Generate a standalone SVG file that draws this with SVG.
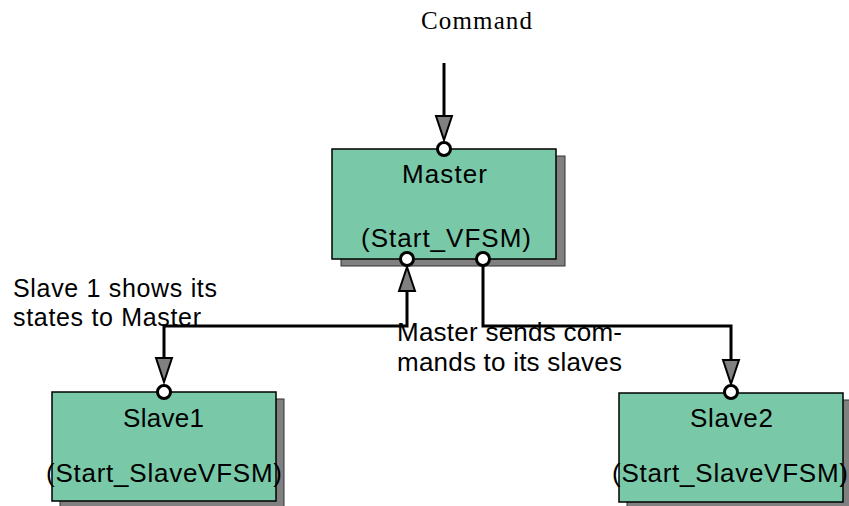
<svg xmlns="http://www.w3.org/2000/svg" width="849" height="506" viewBox="0 0 849 506">
  <style>
    .box { fill: #79C9A9; stroke: #000; stroke-width: 1.5; }
    .shadow { fill: #808080; stroke: #333; stroke-width: 1; }
    .port { fill: #fff; stroke: #000; stroke-width: 3; }
    .wire { fill: none; stroke: #000; stroke-width: 3; }
    .t { font-family: "Liberation Sans", Arial, sans-serif; font-size: 26px; fill: #000; }
    .lbl { font-family: "Liberation Sans", Arial, sans-serif; font-size: 25px; fill: #000; }
    .serif { font-family: "Liberation Serif", "Times New Roman", serif; font-size: 25px; fill: #000; }
  </style>
  <defs>
    <marker id="arr" markerUnits="userSpaceOnUse" markerWidth="28" markerHeight="20" viewBox="0 0 28 20" refX="1" refY="10" orient="auto-start-reverse">
      <path d="M1,2 L25,10 L1,18 Z" fill="#808080" stroke="#000" stroke-width="2" stroke-linejoin="miter"/>
    </marker>
  </defs>
  <rect width="849" height="506" fill="#fff"/>

  <g id="connectors">
    <path class="wire" d="M444,63 V116" marker-end="url(#arr)"/>
    <path class="wire" d="M483,262 V326 H731 V360" marker-end="url(#arr)"/>
    <path class="wire" d="M407,291 V326 H164 V358" marker-start="url(#arr)" marker-end="url(#arr)"/>
  </g>

  <g id="label-command">
    <text class="serif" x="421" y="29" textLength="111">Command</text>
  </g>
  <g id="label-slave1">
    <text class="lbl" x="13" y="297" textLength="204">Slave 1 shows its</text>
    <text class="lbl" x="13" y="326" textLength="188">states to Master</text>
  </g>
  <g id="label-master">
    <text class="t" x="397" y="341" textLength="225">Master sends com-</text>
    <text class="t" x="397" y="371" textLength="225">mands to its slaves</text>
  </g>

  <g id="master">
    <rect class="shadow" x="341" y="156" width="224" height="110"/>
    <rect class="box" x="332" y="149" width="224" height="110"/>
    <text class="t" x="402" y="183" textLength="85">Master</text>
    <text class="t" x="361" y="247" textLength="170">(Start_VFSM)</text>
    <circle class="port" cx="444" cy="149" r="6.5"/>
    <circle class="port" cx="407" cy="259" r="6.5"/>
    <circle class="port" cx="483" cy="259" r="6.5"/>
  </g>

  <g id="slave1">
    <rect class="shadow" x="60" y="399" width="224" height="110"/>
    <rect class="box" x="52" y="392" width="224" height="109"/>
    <text class="t" x="123" y="427" textLength="81">Slave1</text>
    <text class="t" x="46" y="482" textLength="236">(Start_SlaveVFSM)</text>
    <circle class="port" cx="164" cy="392" r="6.5"/>
  </g>

  <g id="slave2">
    <rect class="shadow" x="627" y="400" width="224" height="110"/>
    <rect class="box" x="619" y="393" width="224" height="109"/>
    <text class="t" x="690" y="427" textLength="83">Slave2</text>
    <text class="t" x="612" y="482" textLength="236">(Start_SlaveVFSM)</text>
    <circle class="port" cx="731" cy="392" r="6.5"/>
  </g>
</svg>
